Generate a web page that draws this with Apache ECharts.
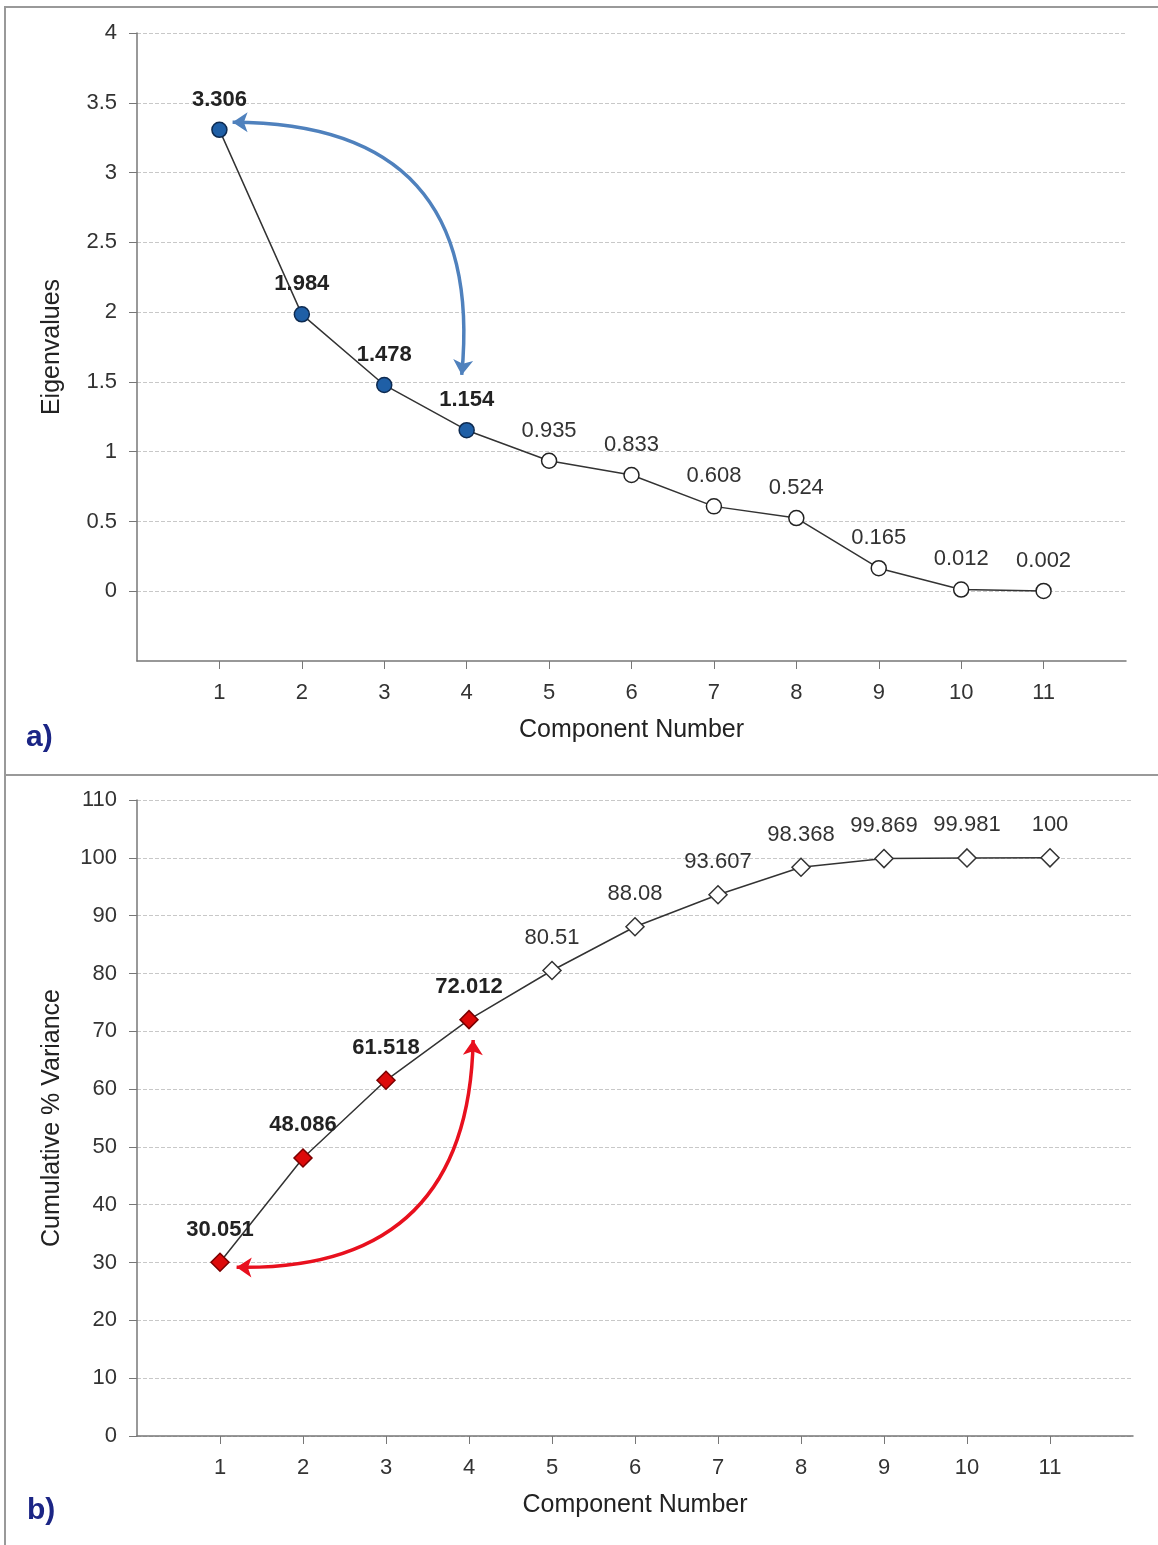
<!DOCTYPE html>
<html>
<head>
<meta charset="utf-8">
<script src="https://cdn.jsdelivr.net/npm/echarts@6/dist/echarts.min.js"></script>
<style>
  html, body { margin: 0; padding: 0; background: #fff; }
  #chart { width: 1158px; height: 1545px; }
</style>
</head>
<body>
<div id="chart"></div>
<script>
// data
var components = [1, 2, 3, 4, 5, 6, 7, 8, 9, 10, 11];
var eigenvalues = [3.306, 1.984, 1.478, 1.154, 0.935, 0.833, 0.608, 0.524, 0.165, 0.012, 0.002];
var cumVariance = [30.051, 48.086, 61.518, 72.012, 80.51, 88.08, 93.607, 98.368, 99.869, 99.981, 100];
var retained = 4; // first 4 components highlighted
var xTicks = [1, 2, 3, 4, 5, 6, 7, 8, 9, 10, 11];
var yTicksA = [0, 0.5, 1, 1.5, 2, 2.5, 3, 3.5, 4];
var yTicksB = [0, 10, 20, 30, 40, 50, 60, 70, 80, 90, 100, 110];
// annotation arrows, in data units [start, end]
var arrowA = [[1.16, 3.36], [3.94, 1.55]];
var arrowB = [[4.05, 68.5], [1.2, 29.2]];

var font = '"Liberation Sans", Arial, sans-serif';

function buildPoints(values, onFill, onBorder, offFill, offBorder) {
    var out = [];
    for (var i = 0; i < values.length; i++) {
        var on = i < retained;
        out.push({
            value: [components[i], values[i]],
            itemStyle: {
                color: on ? onFill : offFill,
                borderColor: on ? onBorder : offBorder,
                borderWidth: 1.5
            },
            label: {
                fontWeight: on ? 'bold' : 'normal',
                color: on ? '#222' : '#333'
            }
        });
    }
    return out;
}

function xAxisFor(gridIndex) {
    return {
        type: 'value', gridIndex: gridIndex, min: 0, max: 12, interval: 1,
        name: 'Component Number', nameLocation: 'middle', nameGap: 57,
        nameTextStyle: { fontFamily: font, fontSize: 25, color: '#222' },
        axisLine: { onZero: false, lineStyle: { color: '#777', width: 1.5 } },
        axisTick: { show: true, length: 8, customValues: xTicks, lineStyle: { color: '#777' } },
        axisLabel: { customValues: xTicks, margin: 21, fontFamily: font, fontSize: 22, color: '#333' },
        splitLine: { show: false }
    };
}

function yAxisFor(gridIndex, name, min, max, interval, ticks) {
    return {
        type: 'value', gridIndex: gridIndex, min: min, max: max, interval: interval,
        name: name, nameLocation: 'middle', nameGap: 72,
        nameTextStyle: { fontFamily: font, fontSize: 25, color: '#222' },
        axisLine: { show: true, lineStyle: { color: '#777', width: 1.5 } },
        axisTick: { show: true, length: 8, customValues: ticks, lineStyle: { color: '#777' } },
        axisLabel: { customValues: ticks, margin: 20, fontFamily: font, fontSize: 22, color: '#333' },
        splitLine: { show: true, lineStyle: { color: '#c8c8c8', type: 'dashed', width: 1 } }
    };
}

var chart = echarts.init(document.getElementById('chart'), null, { renderer: 'canvas' });

var option = {
    backgroundColor: '#fff',
    animation: false,
    grid: [
        { left: 137, top: 33, width: 989, height: 628 },
        { left: 137, top: 800, width: 996, height: 636 }
    ],
    xAxis: [xAxisFor(0), xAxisFor(1)],
    yAxis: [
        yAxisFor(0, 'Eigenvalues', -0.5, 4, 0.5, yTicksA),
        yAxisFor(1, 'Cumulative % Variance', 0, 110, 10, yTicksB)
    ],
    graphic: [
        { type: 'rect', shape: { x: 5, y: 7, width: 1160, height: 768 }, style: { fill: 'none', stroke: '#999', lineWidth: 2 }, silent: true },
        { type: 'rect', shape: { x: 5, y: 775, width: 1160, height: 790 }, style: { fill: 'none', stroke: '#999', lineWidth: 2 }, silent: true },
        { type: 'text', left: 26, top: 723, style: { text: 'a)', font: 'bold 30px ' + font, fill: '#1b2585' } },
        { type: 'text', left: 27, top: 1496, style: { text: 'b)', font: 'bold 30px ' + font, fill: '#1b2585' } }
    ],
    series: [
        {
            type: 'line', xAxisIndex: 0, yAxisIndex: 0,
            data: buildPoints(eigenvalues, '#1f5fa6', '#0d2a50', '#fff', '#222'),
            symbol: 'circle', symbolSize: 15,
            lineStyle: { color: '#333', width: 1.5 },
            label: { show: true, position: 'top', distance: 11, fontFamily: font, fontSize: 22 },
            z: 3
        },
        {
            type: 'line', xAxisIndex: 1, yAxisIndex: 1,
            data: buildPoints(cumVariance, '#dd0a0a', '#7a0000', '#fff', '#333'),
            symbol: 'diamond', symbolSize: 18,
            lineStyle: { color: '#333', width: 1.5 },
            label: { show: true, position: 'top', distance: 12, fontFamily: font, fontSize: 22 },
            z: 3
        },
        {
            type: 'lines', coordinateSystem: 'cartesian2d', xAxisIndex: 0, yAxisIndex: 0,
            symbol: ['arrow', 'arrow'], symbolSize: 15,
            lineStyle: { color: '#4f81bd', width: 3.5, curveness: 0.55, opacity: 1 },
            data: [{ coords: arrowA }],
            z: 2
        },
        {
            type: 'lines', coordinateSystem: 'cartesian2d', xAxisIndex: 1, yAxisIndex: 1,
            symbol: ['arrow', 'arrow'], symbolSize: 15,
            lineStyle: { color: '#e8101e', width: 3.5, curveness: 0.5, opacity: 1 },
            data: [{ coords: arrowB }],
            z: 2
        }
    ]
};
chart.setOption(option);
</script>
</body>
</html>
